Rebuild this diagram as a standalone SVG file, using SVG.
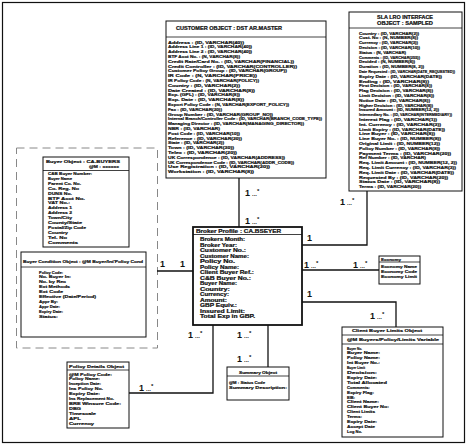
<svg xmlns="http://www.w3.org/2000/svg" width="468" height="445" viewBox="0 0 468 445">
<style>
  .box { fill: #fff; stroke: #111; stroke-width: 1; }
  .main { fill: #fff; stroke: #111; stroke-width: 1.8; }
  .sep { stroke: #111; stroke-width: 0.8; }
  .t { font-family: "Liberation Sans", Arial, sans-serif; font-size: 4.2px; font-weight: bold; fill: #111; stroke: #111; stroke-width: 0.2; }
  .h { font-family: "Liberation Sans", Arial, sans-serif; font-size: 4.6px; font-weight: bold; fill: #111; stroke: #111; stroke-width: 0.2; }
  .m { font-family: "Liberation Sans", Arial, sans-serif; font-size: 9px; font-weight: bold; fill: #111; }
  .s { font-size: 6px; }
  .conn { fill: none; stroke: #111; stroke-width: 1.3; }
  .zone { fill: none; stroke: #888; stroke-width: 1; stroke-dasharray: 8 5; }
</style>

<rect x="0" y="0" width="468" height="445" fill="#fff"/>
<rect x="2.5" y="2.5" width="462" height="440" fill="none" stroke="#111" stroke-width="1.2"/>

<!-- buyer grouping zone -->
<rect class="zone" x="16.5" y="148" width="141" height="200"/>

<!-- connectors -->
<g id="connectors">
  <line class="conn" x1="239" y1="178" x2="239" y2="227"/>
  <polyline class="conn" points="302,245 367,245 367,191"/>
  <line class="conn" x1="302" y1="270" x2="379" y2="270"/>
  <polyline class="conn" points="302,302 396,302 396,327"/>
  <line class="conn" x1="157" y1="271" x2="193" y2="271"/>
  <polyline class="conn" points="213,325 213,393 129,393"/>
  <line class="conn" x1="268" y1="325" x2="268" y2="367"/>

  <text class="m" x="245" y="196">1<tspan class="s" dx="2">...</tspan><tspan class="s" dy="-3.5">*</tspan></text>
  <text class="m" x="245" y="224">1<tspan class="s" dx="2">...</tspan><tspan class="s" dy="-3.5">*</tspan></text>
  <text class="m" x="307" y="241">1</text>
  <text class="m" x="340" y="205">1<tspan class="s" dx="2">...</tspan><tspan class="s" dy="-3.5">*</tspan></text>
  <text class="m" x="304" y="268">1<tspan class="s" dx="2">...</tspan><tspan class="s" dy="-3.5">*</tspan></text>
  <text class="m" x="353" y="268">1<tspan class="s" dx="2">...</tspan><tspan class="s" dy="-3.5">*</tspan></text>
  <text class="m" x="307" y="297">1</text>
  <text class="m" x="370" y="319">1<tspan class="s" dx="2">...</tspan><tspan class="s" dy="-3.5">*</tspan></text>
  <text class="m" x="160" y="267">1</text>
  <text class="m" x="180" y="267">1</text>
  <text class="m" x="188" y="338">1<tspan class="s" dx="2">...</tspan><tspan class="s" dy="-3.5">*</tspan></text>
  <text class="m" x="237" y="338">1<tspan class="s" dx="2">...</tspan><tspan class="s" dy="-3.5">*</tspan></text>
  <text class="m" x="237" y="362">1<tspan class="s" dx="2">...</tspan><tspan class="s" dy="-3.5">*</tspan></text>
  <text class="m" x="139" y="391">1<tspan class="s" dx="2">...</tspan><tspan class="s" dy="-3.5">*</tspan></text>
</g>

<!-- customer object -->
<g id="customer">
  <rect class="box" x="166" y="21" width="160" height="157"/>
  <line class="sep" x1="166" y1="37" x2="326" y2="37"/>
  <text class="h" x="176" y="29.5" textLength="106" lengthAdjust="spacingAndGlyphs">CUSTOMER OBJECT : DST AR.MASTER</text>
  <g class="t">
    <text x="168" y="43.5" textLength="76" lengthAdjust="spacingAndGlyphs">Address : (ID, VARCHAR(40))</text>
    <text x="168" y="48.3" textLength="84" lengthAdjust="spacingAndGlyphs">Address Line 1 : (ID, VARCHAR(40))</text>
    <text x="168" y="53.1" textLength="84" lengthAdjust="spacingAndGlyphs">Address Line 2 : (ID, VARCHAR(40))</text>
    <text x="168" y="57.9" textLength="72" lengthAdjust="spacingAndGlyphs">BTF Acct No. : (N, VARCHAR(8))</text>
    <text x="168" y="62.7" textLength="126" lengthAdjust="spacingAndGlyphs">Credit Rate/Card No. : (ID, VARCHAR(FINANCIAL))</text>
    <text x="168" y="67.5" textLength="129" lengthAdjust="spacingAndGlyphs">Credit Controller : (ID, VARCHAR(CONTROLLER))</text>
    <text x="168" y="72.3" textLength="119" lengthAdjust="spacingAndGlyphs">Customer Policy Group : (ID, VARCHAR(GROUP))</text>
    <text x="168" y="77.1" textLength="89" lengthAdjust="spacingAndGlyphs">IR Code : (N, VARCHAR(PRICE))</text>
    <text x="168" y="81.9" textLength="91" lengthAdjust="spacingAndGlyphs">IR Policy Code : (N, VARCHAR(POLICY))</text>
    <text x="168" y="86.7" textLength="72" lengthAdjust="spacingAndGlyphs">Country : (ID, VARCHAR(2))</text>
    <text x="168" y="91.5" textLength="87" lengthAdjust="spacingAndGlyphs">Date Created : (ID, VARCHAR(8))</text>
    <text x="168" y="96.3" textLength="72" lengthAdjust="spacingAndGlyphs">Exp. (GPL) : (ID, VARCHAR(8))</text>
    <text x="168" y="101.1" textLength="76" lengthAdjust="spacingAndGlyphs">Exp. Date : (ID, VARCHAR(8))</text>
    <text x="168" y="105.9" textLength="121" lengthAdjust="spacingAndGlyphs">Export Policy Code : (N, VARCHAR(EXPORT_POLICY))</text>
    <text x="168" y="110.7" textLength="54" lengthAdjust="spacingAndGlyphs">Fax : (ID, VARCHAR(20))</text>
    <text x="168" y="115.5" textLength="105" lengthAdjust="spacingAndGlyphs">Group Number : (ID, VARCHAR(GROUP_NO))</text>
    <text x="168" y="120.3" textLength="154" lengthAdjust="spacingAndGlyphs">Internal Branch/Controller Code : (ID, VARCHAR(BRANCH_CODE_TYPE))</text>
    <text x="168" y="125.1" textLength="136" lengthAdjust="spacingAndGlyphs">Managing Director : (ID, VARCHAR(MANAGING_DIRECTOR))</text>
    <text x="168" y="129.9" textLength="52" lengthAdjust="spacingAndGlyphs">NBR : (ID, VARCHAR)</text>
    <text x="168" y="134.7" textLength="72" lengthAdjust="spacingAndGlyphs">Post Code : (ID, VARCHAR(10))</text>
    <text x="168" y="139.5" textLength="74" lengthAdjust="spacingAndGlyphs">Reference : (ID, VARCHAR(20))</text>
    <text x="168" y="144.3" textLength="56" lengthAdjust="spacingAndGlyphs">State : (ID, VARCHAR(2))</text>
    <text x="168" y="149.1" textLength="66" lengthAdjust="spacingAndGlyphs">Town : (ID, VARCHAR(30))</text>
    <text x="168" y="153.9" textLength="69" lengthAdjust="spacingAndGlyphs">Telex : (ID, VARCHAR(20))</text>
    <text x="168" y="158.7" textLength="117" lengthAdjust="spacingAndGlyphs">UK Correspondence : (ID, VARCHAR(ADDRESS))</text>
    <text x="168" y="163.5" textLength="126" lengthAdjust="spacingAndGlyphs">UK Correspondence Code : (ID, VARCHAR(ADDR_CODE))</text>
    <text x="168" y="168.3" textLength="102" lengthAdjust="spacingAndGlyphs">Use Registration : (ID, VARCHAR(20))</text>
    <text x="168" y="173.1" textLength="86" lengthAdjust="spacingAndGlyphs">Workstation : (ID, VARCHAR(8))</text>
  </g>
</g>

<!-- SLA LRO interface object -->
<g id="sla">
  <rect class="box" x="349" y="12" width="113" height="179"/>
  <line class="sep" x1="349" y1="28" x2="462" y2="28"/>
  <text class="h" x="405" y="18.5" text-anchor="middle" textLength="56" lengthAdjust="spacingAndGlyphs">SLA LRO INTERFACE</text>
  <text class="h" x="405" y="24.5" text-anchor="middle" textLength="56" lengthAdjust="spacingAndGlyphs">OBJECT : SAMPLED</text>
  <g class="t">
    <text x="359" y="34.5" textLength="60" lengthAdjust="spacingAndGlyphs">Country : (ID, VARCHAR(2))</text>
    <text x="359" y="39.3" textLength="59" lengthAdjust="spacingAndGlyphs">Cust. No : (N, NUMBER(8))</text>
    <text x="359" y="44.1" textLength="59" lengthAdjust="spacingAndGlyphs">Currency : (ID, VARCHAR(3))</text>
    <text x="359" y="48.9" textLength="61" lengthAdjust="spacingAndGlyphs">Decision : (ID, VARCHAR(10))</text>
    <text x="359" y="53.7" textLength="47" lengthAdjust="spacingAndGlyphs">Status : (N, VARCHAR)</text>
    <text x="359" y="58.5" textLength="61" lengthAdjust="spacingAndGlyphs">Comments : (ID, VARCHAR(255))</text>
    <text x="359" y="63.3" textLength="56" lengthAdjust="spacingAndGlyphs">Decided : (N, NUMBER(8))</text>
    <text x="359" y="68.1" textLength="65" lengthAdjust="spacingAndGlyphs">Duration : (ID, NUMBER(8, 2))</text>
    <text x="359" y="72.9" textLength="96" lengthAdjust="spacingAndGlyphs">Date Requested : (ID, VARCHAR(DATE_REQUESTED))</text>
    <text x="359" y="77.7" textLength="83" lengthAdjust="spacingAndGlyphs">Expiry Date : (ID, VARCHAR(DATE))</text>
    <text x="359" y="82.5" textLength="70" lengthAdjust="spacingAndGlyphs">Ending : (ID, VARCHAR(8))</text>
    <text x="359" y="87.3" textLength="73" lengthAdjust="spacingAndGlyphs">First Decision : (ID, VARCHAR(8))</text>
    <text x="359" y="92.1" textLength="74" lengthAdjust="spacingAndGlyphs">Flag Decision : (ID, VARCHAR(8))</text>
    <text x="359" y="96.9" textLength="75" lengthAdjust="spacingAndGlyphs">Limit Decision : (ID, VARCHAR(8))</text>
    <text x="359" y="101.7" textLength="71" lengthAdjust="spacingAndGlyphs">Notice Date : (ID, VARCHAR(8))</text>
    <text x="359" y="106.5" textLength="74" lengthAdjust="spacingAndGlyphs">Higher Decision : (ID, VARCHAR(8))</text>
    <text x="359" y="111.3" textLength="80" lengthAdjust="spacingAndGlyphs">Insured Amount : (ID, NUMBER(12, 2))</text>
    <text x="359" y="116.1" textLength="93" lengthAdjust="spacingAndGlyphs">Intermediary No. : (ID, VARCHAR(INTERMEDIARY))</text>
    <text x="359" y="120.9" textLength="78" lengthAdjust="spacingAndGlyphs">Interest Flag : (ID, VARCHAR(1))</text>
    <text x="359" y="125.7" textLength="82" lengthAdjust="spacingAndGlyphs">Int. Currency : (ID, VARCHAR(3))</text>
    <text x="359" y="130.5" textLength="86" lengthAdjust="spacingAndGlyphs">Limit Expiry : (ID, VARCHAR(DATE))</text>
    <text x="359" y="135.3" textLength="76" lengthAdjust="spacingAndGlyphs">Line Buyer : (ID, VARCHAR(8))</text>
    <text x="359" y="140.1" textLength="82" lengthAdjust="spacingAndGlyphs">Line Buyer No. : (ID, NUMBER(8))</text>
    <text x="359" y="144.9" textLength="81" lengthAdjust="spacingAndGlyphs">Original Limit : (ID, NUMBER(12))</text>
    <text x="359" y="149.7" textLength="81" lengthAdjust="spacingAndGlyphs">Policy Number : (ID, VARCHAR(8))</text>
    <text x="359" y="154.5" textLength="92" lengthAdjust="spacingAndGlyphs">Payment Terms : (ID, VARCHAR(20))</text>
    <text x="359" y="159.3" textLength="67" lengthAdjust="spacingAndGlyphs">Ref Number : (ID, VARCHAR)</text>
    <text x="359" y="164.1" textLength="98" lengthAdjust="spacingAndGlyphs">Req. Limit Amount : (ID, NUMBER(12, 2))</text>
    <text x="359" y="168.9" textLength="97" lengthAdjust="spacingAndGlyphs">Req. Limit Currency : (ID, VARCHAR(3))</text>
    <text x="359" y="173.7" textLength="95" lengthAdjust="spacingAndGlyphs">Req. Limit Date : (ID, VARCHAR(DATE))</text>
    <text x="359" y="178.5" textLength="89" lengthAdjust="spacingAndGlyphs">Requested By : (ID, VARCHAR(20))</text>
    <text x="359" y="183.3" textLength="81" lengthAdjust="spacingAndGlyphs">Status Date : (ID, VARCHAR(8))</text>
    <text x="359" y="188.1" textLength="62" lengthAdjust="spacingAndGlyphs">Terms : (ID, VARCHAR(20))</text>
  </g>
</g>

<!-- buyer object -->
<g id="buyer">
  <rect class="box" x="43" y="157" width="86" height="90"/>
  <line class="sep" x1="43" y1="170.5" x2="129" y2="170.5"/>
  <text class="t" x="46" y="163" textLength="74" lengthAdjust="spacingAndGlyphs">Buyer Object : CA.BUYERS</text>
  <text class="t" x="89" y="167.8" textLength="30" lengthAdjust="spacingAndGlyphs">@M : xxxxxx</text>
  <g class="t">
    <text x="48" y="175" textLength="44" lengthAdjust="spacingAndGlyphs">C&amp;B Buyer Number:</text>
    <text x="48" y="179.9" textLength="24" lengthAdjust="spacingAndGlyphs">Buyer Name</text>
    <text x="48" y="184.8" textLength="33" lengthAdjust="spacingAndGlyphs">Parent Co. No.</text>
    <text x="48" y="189.7" textLength="31" lengthAdjust="spacingAndGlyphs">Co. Reg. No</text>
    <text x="48" y="194.6" textLength="24" lengthAdjust="spacingAndGlyphs">DUNS No.</text>
    <text x="48" y="199.5" textLength="37" lengthAdjust="spacingAndGlyphs">BTF Acct No.</text>
    <text x="48" y="204.4" textLength="22" lengthAdjust="spacingAndGlyphs">VAT No.:</text>
    <text x="48" y="209.3" textLength="24" lengthAdjust="spacingAndGlyphs">Address 1</text>
    <text x="48" y="214.2" textLength="24" lengthAdjust="spacingAndGlyphs">Address 2</text>
    <text x="48" y="219.1" textLength="24" lengthAdjust="spacingAndGlyphs">Town/City</text>
    <text x="48" y="224" textLength="34" lengthAdjust="spacingAndGlyphs">County/State</text>
    <text x="48" y="228.9" textLength="38" lengthAdjust="spacingAndGlyphs">Postal/Zip Code</text>
    <text x="48" y="233.8" textLength="20" lengthAdjust="spacingAndGlyphs">Country</text>
    <text x="48" y="238.7" textLength="19" lengthAdjust="spacingAndGlyphs">Tel. No</text>
    <text x="48" y="243.6" textLength="30" lengthAdjust="spacingAndGlyphs">Comments</text>
  </g>
</g>

<!-- buyer condition object -->
<g id="buyer-condition">
  <rect class="box" x="21" y="252" width="125" height="85"/>
  <line class="sep" x1="21" y1="267" x2="146" y2="267"/>
  <text class="t" x="23" y="263" textLength="120" lengthAdjust="spacingAndGlyphs">Buyer Condition Object : @M Buyer/Int'Policy Cond</text>
  <g class="t">
    <text x="39" y="273.5" textLength="24" lengthAdjust="spacingAndGlyphs">Policy Code:</text>
    <text x="39" y="278.4" textLength="32" lengthAdjust="spacingAndGlyphs">No. Buyer In:</text>
    <text x="39" y="283.3" textLength="27" lengthAdjust="spacingAndGlyphs">No. by Rec</text>
    <text x="39" y="288.2" textLength="31" lengthAdjust="spacingAndGlyphs">Ext Methods</text>
    <text x="39" y="293.1" textLength="24" lengthAdjust="spacingAndGlyphs">Ext Code</text>
    <text x="39" y="298" textLength="57" lengthAdjust="spacingAndGlyphs">Effective (Date/Period)</text>
    <text x="39" y="302.9" textLength="19" lengthAdjust="spacingAndGlyphs">Appr By:</text>
    <text x="39" y="307.8" textLength="21" lengthAdjust="spacingAndGlyphs">Appr Date:</text>
    <text x="39" y="312.7" textLength="24" lengthAdjust="spacingAndGlyphs">Expiry Date:</text>
    <text x="39" y="317.6" textLength="19" lengthAdjust="spacingAndGlyphs">Status:</text>
  </g>
</g>

<!-- broker profile (central object) -->
<g id="broker-profile">
  <rect class="main" x="193" y="227" width="109" height="98"/>
  <line class="sep" x1="193" y1="234.5" x2="302" y2="234.5" stroke-width="1.2"/>
  <text class="h" x="196" y="233" textLength="85" lengthAdjust="spacingAndGlyphs">Broker Profile : CA.BSEYER</text>
  <g class="h">
    <text x="200" y="241" textLength="45" lengthAdjust="spacingAndGlyphs">Brokers Month:</text>
    <text x="200" y="246.5" textLength="37" lengthAdjust="spacingAndGlyphs">Broker Year:</text>
    <text x="200" y="252" textLength="46" lengthAdjust="spacingAndGlyphs">Customer No.:</text>
    <text x="200" y="257.5" textLength="49" lengthAdjust="spacingAndGlyphs">Customer Name:</text>
    <text x="200" y="263" textLength="35" lengthAdjust="spacingAndGlyphs">Policy No.</text>
    <text x="200" y="268.5" textLength="39" lengthAdjust="spacingAndGlyphs">Policy Name:</text>
    <text x="200" y="274" textLength="54" lengthAdjust="spacingAndGlyphs">Client Buyer Ref.:</text>
    <text x="200" y="279.5" textLength="51" lengthAdjust="spacingAndGlyphs">C&amp;B Buyer No.:</text>
    <text x="200" y="285" textLength="37" lengthAdjust="spacingAndGlyphs">Buyer Name:</text>
    <text x="200" y="290.5" textLength="30" lengthAdjust="spacingAndGlyphs">Country:</text>
    <text x="200" y="296" textLength="29" lengthAdjust="spacingAndGlyphs">Currency:</text>
    <text x="200" y="301.5" textLength="27" lengthAdjust="spacingAndGlyphs">Amount:</text>
    <text x="200" y="307" textLength="37" lengthAdjust="spacingAndGlyphs">GBP Equiv.:</text>
    <text x="200" y="312.5" textLength="45" lengthAdjust="spacingAndGlyphs">Insured Limit:</text>
    <text x="200" y="318" textLength="55" lengthAdjust="spacingAndGlyphs">Total Exp in GBP.</text>
  </g>
</g>

<!-- economy -->
<g id="economy">
  <rect class="box" x="379" y="256" width="41" height="28"/>
  <line class="sep" x1="379" y1="262" x2="420" y2="262"/>
  <text class="t" x="381" y="260.5" textLength="20" lengthAdjust="spacingAndGlyphs">Economy</text>
  <g class="t">
    <text x="381" y="268" textLength="36" lengthAdjust="spacingAndGlyphs">Economy Name</text>
    <text x="381" y="273" textLength="36" lengthAdjust="spacingAndGlyphs">Economy Code</text>
    <text x="381" y="278" textLength="36" lengthAdjust="spacingAndGlyphs">Economy Limit</text>
  </g>
</g>

<!-- client buyer limits object -->
<g id="client-buyer-limits">
  <rect class="box" x="342" y="327" width="101" height="110"/>
  <line class="sep" x1="342" y1="335" x2="443" y2="335"/>
  <line class="sep" x1="342" y1="344" x2="443" y2="344"/>
  <text class="t" x="387" y="332" text-anchor="middle" textLength="70" lengthAdjust="spacingAndGlyphs">Client Buyer Limits Object</text>
  <text class="t" x="393" y="341" text-anchor="middle" textLength="92" lengthAdjust="spacingAndGlyphs">@M Buyers/Policy/Limits Variable</text>
  <g class="t">
    <text x="347" y="349.5" textLength="15" lengthAdjust="spacingAndGlyphs">Buyer No.</text>
    <text x="347" y="354.4" textLength="33" lengthAdjust="spacingAndGlyphs">Buyer Name:</text>
    <text x="347" y="359.3" textLength="33" lengthAdjust="spacingAndGlyphs">Policy Name:</text>
    <text x="347" y="364.2" textLength="33" lengthAdjust="spacingAndGlyphs">Int Buyer No.:</text>
    <text x="347" y="369.1" textLength="18" lengthAdjust="spacingAndGlyphs">Buyer Limit</text>
    <text x="347" y="374" textLength="30" lengthAdjust="spacingAndGlyphs">Decision:</text>
    <text x="347" y="378.9" textLength="30" lengthAdjust="spacingAndGlyphs">Expiry Date:</text>
    <text x="347" y="383.8" textLength="40" lengthAdjust="spacingAndGlyphs">Total Allocated</text>
    <text x="347" y="388.7" textLength="23" lengthAdjust="spacingAndGlyphs">Comments:</text>
    <text x="347" y="393.6" textLength="27" lengthAdjust="spacingAndGlyphs">Expiry Flag:</text>
    <text x="347" y="398.5" textLength="8" lengthAdjust="spacingAndGlyphs">EIB:</text>
    <text x="347" y="403.4" textLength="32" lengthAdjust="spacingAndGlyphs">Client Name:</text>
    <text x="347" y="408.3" textLength="42" lengthAdjust="spacingAndGlyphs">Client Buyer No:</text>
    <text x="347" y="413.2" textLength="28" lengthAdjust="spacingAndGlyphs">Client Limits</text>
    <text x="347" y="418.1" textLength="15" lengthAdjust="spacingAndGlyphs">Terms:</text>
    <text x="347" y="423" textLength="30" lengthAdjust="spacingAndGlyphs">Expiry Date:</text>
    <text x="347" y="427.9" textLength="28" lengthAdjust="spacingAndGlyphs">Accept Date</text>
    <text x="347" y="432.8" textLength="15" lengthAdjust="spacingAndGlyphs">Log No.</text>
  </g>
</g>

<!-- policy details object -->
<g id="policy-details">
  <rect class="box" x="67" y="362" width="62" height="66"/>
  <line class="sep" x1="67" y1="370" x2="129" y2="370"/>
  <text class="t" x="69" y="367.5" textLength="55" lengthAdjust="spacingAndGlyphs">Policy Details Object</text>
  <g class="t">
    <text x="69" y="375.5" textLength="43" lengthAdjust="spacingAndGlyphs">@M Policy Code:</text>
    <text x="69" y="380.4" textLength="31" lengthAdjust="spacingAndGlyphs">Policy Name:</text>
    <text x="69" y="385.3" textLength="32" lengthAdjust="spacingAndGlyphs">Inception Date:</text>
    <text x="69" y="390.2" textLength="34" lengthAdjust="spacingAndGlyphs">Ins Policy No.</text>
    <text x="69" y="395.1" textLength="31" lengthAdjust="spacingAndGlyphs">Expiry Date:</text>
    <text x="69" y="400" textLength="45" lengthAdjust="spacingAndGlyphs">Ins Replacement No.</text>
    <text x="69" y="404.9" textLength="52" lengthAdjust="spacingAndGlyphs">BRE Winsure Code:</text>
    <text x="69" y="409.8" textLength="12" lengthAdjust="spacingAndGlyphs">DBG</text>
    <text x="69" y="414.7" textLength="27" lengthAdjust="spacingAndGlyphs">Timescale</text>
    <text x="69" y="419.6" textLength="12" lengthAdjust="spacingAndGlyphs">APL</text>
    <text x="69" y="424.5" textLength="25" lengthAdjust="spacingAndGlyphs">Currency</text>
  </g>
</g>

<!-- summary object -->
<g id="summary">
  <rect class="box" x="227" y="367" width="62" height="33"/>
  <line class="sep" x1="227" y1="376" x2="289" y2="376"/>
  <text class="t" x="258" y="373.5" text-anchor="middle" textLength="38" lengthAdjust="spacingAndGlyphs">Summary Object</text>
  <text class="t" x="229" y="384" textLength="36" lengthAdjust="spacingAndGlyphs">@M : Status Code</text>
  <text class="t" x="229" y="389" textLength="58" lengthAdjust="spacingAndGlyphs">Summary Description:</text>
</g>
</svg>
